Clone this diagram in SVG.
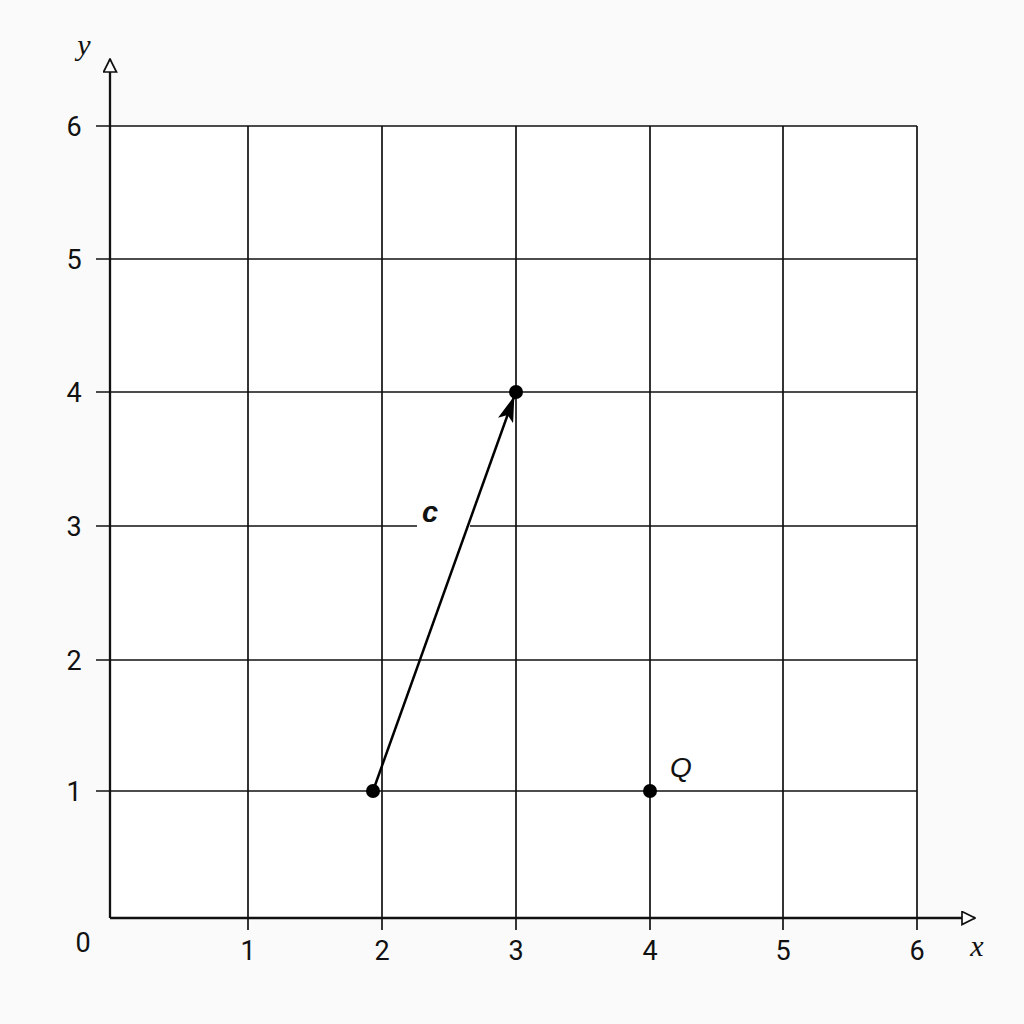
<svg xmlns="http://www.w3.org/2000/svg" width="1024" height="1024" viewBox="0 0 1024 1024">
<defs>
<style>
.grid{stroke:#111;stroke-width:1.7;fill:none}
.axis{stroke:#111;stroke-width:2.3;fill:none}
.num{font-family:Roboto,"Liberation Sans",Arial,sans-serif;font-size:27px;fill:#111;text-anchor:middle}
.var{font-family:"Liberation Sans",Arial,sans-serif;font-style:italic;font-size:28px;fill:#111;text-anchor:middle}
.axvar{font-family:"Liberation Serif","Times New Roman",serif;font-style:italic;font-size:30px;fill:#111;text-anchor:middle}
.dot{fill:#000}
</style>
<marker id="openArrow" viewBox="0 0 15 15" refX="14" refY="7.5" markerWidth="15" markerHeight="15" markerUnits="userSpaceOnUse" orient="auto">
<path d="M1,1 L14,7.5 L1,14 Z" fill="#fff" stroke="#111" stroke-width="1.7"/>
</marker>
<marker id="solidArrow" viewBox="0 0 26 16" refX="25" refY="8" markerWidth="26" markerHeight="16" markerUnits="userSpaceOnUse" orient="auto">
<path d="M0,0 L26,8 L0,16 L6,8 Z" fill="#000"/>
</marker>
</defs>
<rect width="1024" height="1024" fill="#fafafa"/>
<g id="grid">
<rect x="110" y="126" width="807" height="792" fill="#fff"/>
<line class="grid" x1="96" y1="126" x2="917" y2="126"/>
<line class="grid" x1="96" y1="259" x2="917" y2="259"/>
<line class="grid" x1="96" y1="392" x2="917" y2="392"/>
<line class="grid" x1="96" y1="526" x2="917" y2="526"/>
<line class="grid" x1="96" y1="660" x2="917" y2="660"/>
<line class="grid" x1="96" y1="791" x2="917" y2="791"/>
<line class="grid" x1="248" y1="126" x2="248" y2="930"/>
<line class="grid" x1="382" y1="126" x2="382" y2="930"/>
<line class="grid" x1="516" y1="126" x2="516" y2="930"/>
<line class="grid" x1="650" y1="126" x2="650" y2="930"/>
<line class="grid" x1="783" y1="126" x2="783" y2="930"/>
<line class="grid" x1="917" y1="126" x2="917" y2="930"/>
</g>
<g id="axes">
<line class="axis" x1="110" y1="918" x2="110" y2="59" marker-end="url(#openArrow)"/>
<line class="axis" x1="110" y1="918" x2="975" y2="918" marker-end="url(#openArrow)"/>
</g>
<g id="labels">
<text class="num" x="74" y="136">6</text>
<text class="num" x="74" y="269">5</text>
<text class="num" x="74" y="402">4</text>
<text class="num" x="74" y="536">3</text>
<text class="num" x="74" y="670">2</text>
<text class="num" x="74" y="801">1</text>
<text class="num" x="83" y="952">0</text>
<text class="num" x="248" y="960">1</text>
<text class="num" x="382" y="960">2</text>
<text class="num" x="516" y="960">3</text>
<text class="num" x="650" y="960">4</text>
<text class="num" x="783" y="960">5</text>
<text class="num" x="917" y="960">6</text>
<text class="axvar" x="84" y="55">y</text>
<text class="axvar" x="977" y="956">x</text>
</g>
<g id="connectors">
<rect x="417" y="518" width="53" height="16" fill="#fff"/>
<line x1="373" y1="791" x2="514" y2="397" stroke="#000" stroke-width="2.5" marker-end="url(#solidArrow)"/>
<text x="430" y="522" font-family="Liberation Sans,Arial,sans-serif" font-weight="bold" font-style="italic" font-size="29" fill="#111" text-anchor="middle">c</text>
</g>
<g id="pointA"><circle class="dot" cx="373" cy="791" r="7"/></g>
<g id="pointB"><circle class="dot" cx="516" cy="392" r="7"/></g>
<g id="pointQ">
<circle class="dot" cx="650" cy="791" r="7"/>
<text class="var" x="681" y="777">Q</text>
</g>
</svg>
